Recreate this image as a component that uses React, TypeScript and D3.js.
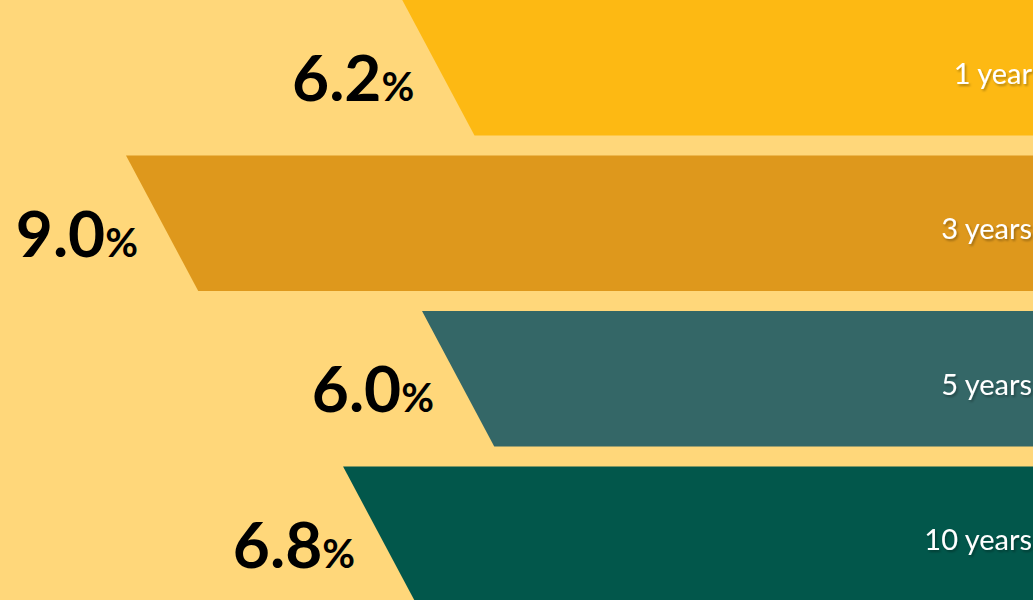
import React from "react";
import * as d3 from "d3";

const categories = ["1 year", "3 years", "5 years", "10 years"];
const values = [6.2, 9.0, 6.0, 6.8];
const colors = ["#FDB913", "#DE981C", "#346767", "#02574B"];

const W = 1033;
const H = 600;
const BG = "#FFD77A";

export default function App() {
  const y = d3
    .scaleBand<string>()
    .domain(categories)
    .range([0, 602])
    .paddingInner(0.129)
    .paddingOuter(0);
  // left edge of bar top (larger value -> longer bar)
  const x = d3.scaleLinear().domain([0, 9]).range([1014, 126]);
  const bh = y.bandwidth();
  const slant = 72 * (bh / 135);

  return (
    <div style={{ position: "absolute", left: 0, top: 0, width: W, height: H, overflow: "hidden" }}>
      <svg width={W} height={H} style={{ display: "block" }}>
        <defs>
          <filter id="ts" x="-20%" y="-40%" width="140%" height="180%">
            <feDropShadow dx="1.5" dy="2" stdDeviation="1.2" floodColor="#000" floodOpacity="0.3" />
          </filter>
        </defs>
        <rect x={0} y={0} width={W} height={H} fill={BG} />
        {categories.map((c, i) => {
          const top = y(c)!;
          const xl = x(values[i]);
          const path = d3.path();
          path.moveTo(xl, top);
          path.lineTo(W + 20, top);
          path.lineTo(W + 20, top + bh);
          path.lineTo(xl + slant, top + bh);
          path.closePath();
          return (
            <g key={c}>
              <path d={path.toString()} fill={colors[i]} />
              <text
                x={1032}
                y={top + bh / 2 + 16}
                textAnchor="end"
                fill="#fff"
                fontFamily="Lato, 'Open Sans', sans-serif"
                fontSize={29}
                filter="url(#ts)"
              >
                {c}
              </text>
              <text
                x={xl + 12}
                y={top + 101}
                textAnchor="end"
                fill="#000"
                fontFamily="Lato, 'Open Sans', sans-serif"
                fontWeight={700}
              >
                <tspan fontSize={64}>{values[i].toFixed(1)}</tspan>
                <tspan fontSize={40}>%</tspan>
              </text>
            </g>
          );
        })}
      </svg>
    </div>
  );
}
